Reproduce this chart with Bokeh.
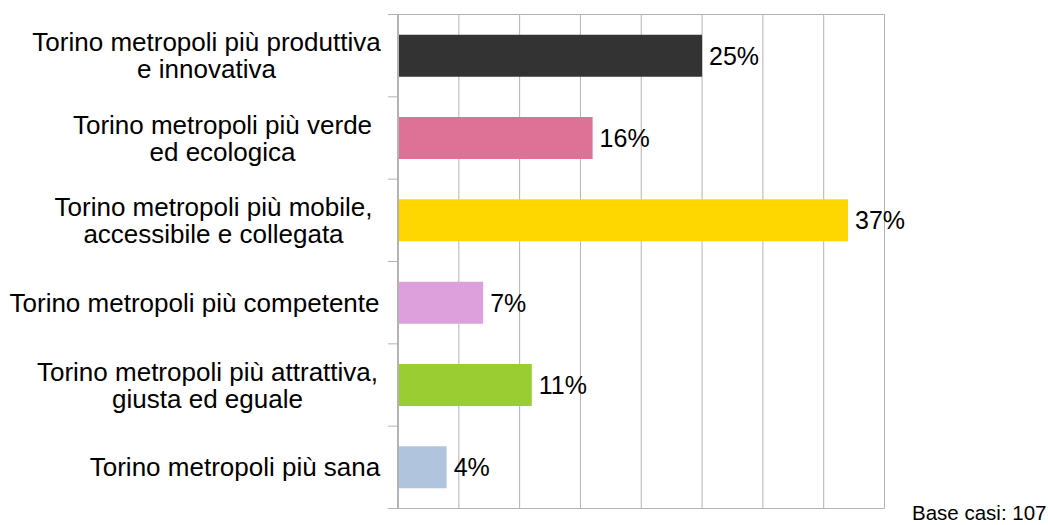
from bokeh.plotting import figure
from bokeh.models import ColumnDataSource, Range1d
from bokeh.core.properties import value
from bokeh.embed import file_html
from bokeh.resources import INLINE

# ---- data ----
categories = [
    "Torino metropoli più produttiva\ne innovativa",
    "Torino metropoli più verde\ned ecologica",
    "Torino metropoli più mobile,\naccessibile e collegata",
    "Torino metropoli più competente",
    "Torino metropoli più attrattiva,\ngiusta ed eguale",
    "Torino metropoli più sana",
]
values = [25, 16, 37, 7, 11, 4]
value_labels = ["25%", "16%", "37%", "7%", "11%", "4%"]
colors = ["#333333", "#de7196", "#ffd700", "#dda0dd", "#9acd32", "#b0c4de"]
grid_ticks = [0, 5, 10, 15, 20, 25, 30, 35, 40]
note = "Base casi: 107"

# ---- layout (pixels) ----
W, H = 1048, 525
FL, FR, FT, FB = 397.5, 884.0, 14.0, 508.0      # plot-area edges
label_centres_px = [206, 222, 213, 194, 207, 234.5]
note_px = (1046, 512)
TICK_LEN_PX = 10

FONT = value("Liberation Sans")
GRID = "#b3b3b3"

n = len(categories)
xmax = grid_ticks[-1]
pxu = (FR - FL) / xmax          # px per percent
pyu = (FB - FT) / n             # px per category band

def px_to_x(px):
    return (px - FL) / pxu

def py_to_y(py):
    return (FB - py) / pyu

ypos = [n - i - 0.5 for i in range(n)]  # first category on top

src = ColumnDataSource(dict(cat=categories, val=values, lab=value_labels, col=colors,
                            y=ypos, lx=[px_to_x(c) for c in label_centres_px]))

p = figure(width=W, height=H, output_backend="svg", toolbar_location=None,
           x_range=Range1d(px_to_x(0), px_to_x(W)),
           y_range=Range1d(py_to_y(H), py_to_y(0)),
           min_border=0, min_border_left=0, min_border_right=0,
           min_border_top=0, min_border_bottom=0)
p.axis.visible = False
p.grid.visible = False
p.outline_line_color = None
p.background_fill_color = "white"
p.border_fill_color = "white"

# vertical gridlines (right-most is the frame's right border)
p.segment(x0=grid_ticks, y0=0, x1=grid_ticks, y1=n, line_color=GRID, line_width=1)
# top and bottom borders
p.segment(x0=[0, 0], y0=[0, n], x1=[xmax, xmax], y1=[0, n], line_color=GRID, line_width=1)
# category separator ticks
seps = list(range(n + 1))
p.segment(x0=px_to_x(FL - TICK_LEN_PX), y0=seps, x1=0, y1=seps, line_color=GRID, line_width=1)

# bars
p.hbar(y="y", right="val", left=0, height=0.51, color="col", line_color=None, source=src)

# left axis line
p.segment(x0=[0], y0=[0], x1=[0], y1=[n], line_color=GRID, line_width=2)

# category labels
p.text(x="lx", y="y", text="cat", source=src, text_align="center", text_baseline="middle",
       text_font=FONT, text_font_size="26px", text_color="black", text_line_height=0.9)

# value labels
p.text(x="val", y="y", text="lab", source=src, x_offset=7, text_align="left",
       text_baseline="middle", text_font=FONT, text_font_size="25px", text_color="black")

# note
p.text(x=[px_to_x(note_px[0])], y=[py_to_y(note_px[1])], text=[note], text_align="right",
       text_baseline="middle", text_font=FONT, text_font_size="20.5px", text_color="black")

open("out.html", "w").write(file_html(p, INLINE))
